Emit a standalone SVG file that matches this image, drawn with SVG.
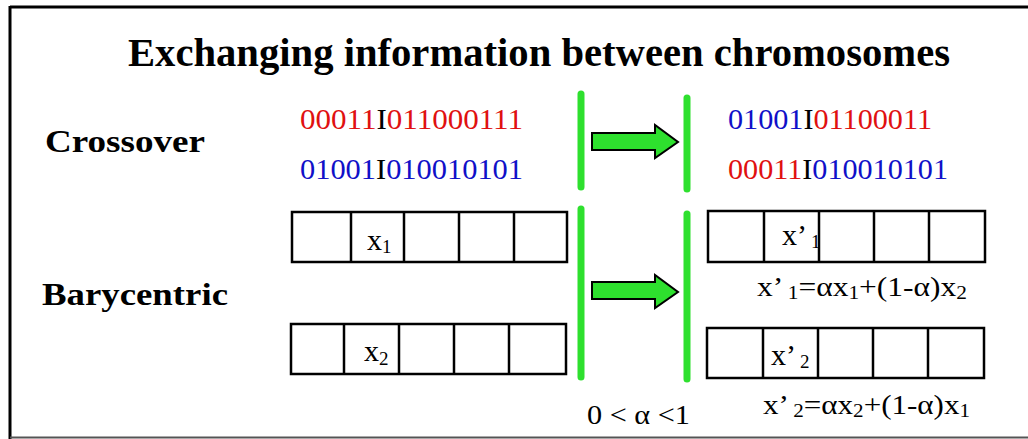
<svg xmlns="http://www.w3.org/2000/svg" width="1028" height="439" viewBox="0 0 1028 439">
<style>
text{font-family:"Liberation Serif","Tinos","DejaVu Serif","Noto Serif","Times New Roman",serif;fill:#000}
.b{font-weight:bold}
.r{fill:#e01010}
.bl{fill:#1010c8}
.k{fill:#000}
.cell{fill:#fff;stroke:#000;stroke-width:2.5}
.gl{stroke:#2ee02e;stroke-width:7;stroke-linecap:round;fill:none}
.arr{fill:#2ee02e;stroke:#000;stroke-width:2;stroke-linejoin:miter}
.sub{font-size:19px}
</style>
<rect width="1028" height="439" fill="#fff"/>
<g id="frame">
<line x1="10" y1="7" x2="1028" y2="7" stroke="#000" stroke-width="3"/>
<line x1="10" y1="6" x2="10" y2="439" stroke="#000" stroke-width="3"/>
<line x1="10" y1="437.5" x2="1028" y2="437.5" stroke="#555" stroke-width="2"/>
</g>
<g id="title"><text class="b" x="128" y="66" font-size="40" textLength="822" lengthAdjust="spacingAndGlyphs">Exchanging information between chromosomes</text></g>
<g id="crossover-label"><text class="b" x="45" y="152" font-size="32" textLength="160" lengthAdjust="spacingAndGlyphs">Crossover</text></g>
<g id="barycentric-label"><text class="b" x="42" y="305" font-size="32" textLength="186" lengthAdjust="spacingAndGlyphs">Barycentric</text></g>
<g id="parent1-bits"><text x="300" y="129" font-size="29" textLength="223" lengthAdjust="spacingAndGlyphs"><tspan class="r">00011</tspan><tspan class="k">I</tspan><tspan class="r">011000111</tspan></text></g>
<g id="parent2-bits"><text x="300" y="179" font-size="29" textLength="223" lengthAdjust="spacingAndGlyphs"><tspan class="bl">01001</tspan><tspan class="k">I</tspan><tspan class="bl">010010101</tspan></text></g>
<g id="child1-bits"><text x="728" y="129" font-size="29" textLength="204" lengthAdjust="spacingAndGlyphs"><tspan class="bl">01001</tspan><tspan class="k">I</tspan><tspan class="r">01100011</tspan></text></g>
<g id="child2-bits"><text x="728" y="179" font-size="29" textLength="220" lengthAdjust="spacingAndGlyphs"><tspan class="r">00011</tspan><tspan class="k">I</tspan><tspan class="bl">010010101</tspan></text></g>
<g id="parent1-cells">
<rect class="cell" x="292" y="212" width="275" height="50"/>
<line class="cell" x1="351" y1="212" x2="351" y2="262"/>
<line class="cell" x1="404" y1="212" x2="404" y2="262"/>
<line class="cell" x1="459" y1="212" x2="459" y2="262"/>
<line class="cell" x1="514" y1="212" x2="514" y2="262"/>
<text x="367" y="250" font-size="30">x<tspan class="sub" dy="3">1</tspan></text>
</g>
<g id="parent2-cells">
<rect class="cell" x="291" y="324" width="275" height="50"/>
<line class="cell" x1="344" y1="324" x2="344" y2="374"/>
<line class="cell" x1="399" y1="324" x2="399" y2="374"/>
<line class="cell" x1="454" y1="324" x2="454" y2="374"/>
<line class="cell" x1="509" y1="324" x2="509" y2="374"/>
<text x="364" y="361" font-size="30">x<tspan class="sub" dy="4">2</tspan></text>
</g>
<g id="child1-cells">
<rect class="cell" x="708" y="211" width="277" height="51"/>
<line class="cell" x1="764" y1="211" x2="764" y2="262"/>
<line class="cell" x1="819" y1="211" x2="819" y2="262"/>
<line class="cell" x1="874" y1="211" x2="874" y2="262"/>
<line class="cell" x1="929" y1="211" x2="929" y2="262"/>
<text x="782" y="245" font-size="30">x’<tspan class="sub" dx="4" dy="3">1</tspan></text>
</g>
<g id="child2-cells">
<rect class="cell" x="707" y="328" width="277" height="50"/>
<line class="cell" x1="763" y1="328" x2="763" y2="378"/>
<line class="cell" x1="818" y1="328" x2="818" y2="378"/>
<line class="cell" x1="873" y1="328" x2="873" y2="378"/>
<line class="cell" x1="928" y1="328" x2="928" y2="378"/>
<text x="771" y="365" font-size="30">x’<tspan class="sub" dx="4" dy="3">2</tspan></text>
</g>
<g id="formula1"><text x="757" y="296" font-size="28" textLength="210" lengthAdjust="spacingAndGlyphs">x’<tspan class="sub" dx="4" dy="3">1</tspan><tspan dy="-3">=αx</tspan><tspan class="sub" dy="3">1</tspan><tspan dy="-3">+(1-α)x</tspan><tspan class="sub" dy="3">2</tspan></text></g>
<g id="formula2"><text x="763" y="414" font-size="28" textLength="207" lengthAdjust="spacingAndGlyphs">x’<tspan class="sub" dx="4" dy="3">2</tspan><tspan dy="-3">=αx</tspan><tspan class="sub" dy="3">2</tspan><tspan dy="-3">+(1-α)x</tspan><tspan class="sub" dy="3">1</tspan></text></g>
<g id="alpha-range"><text x="587" y="424" font-size="28" textLength="103" lengthAdjust="spacingAndGlyphs">0 &lt; α &lt;1</text></g>
<g id="connectors">
<line class="gl" x1="581" y1="94" x2="581" y2="187"/>
<line class="gl" x1="581" y1="209" x2="581" y2="377"/>
<line class="gl" x1="687" y1="98" x2="687" y2="189"/>
<line class="gl" x1="687" y1="214" x2="687" y2="379"/>
<path class="arr" d="M592,133 L655,133 L655,125 L678,142 L655,158 L655,150 L592,150 Z"/>
<path class="arr" d="M592,282 L655,282 L655,275 L678,292 L655,308 L655,299 L592,299 Z"/>
</g>
</svg>
